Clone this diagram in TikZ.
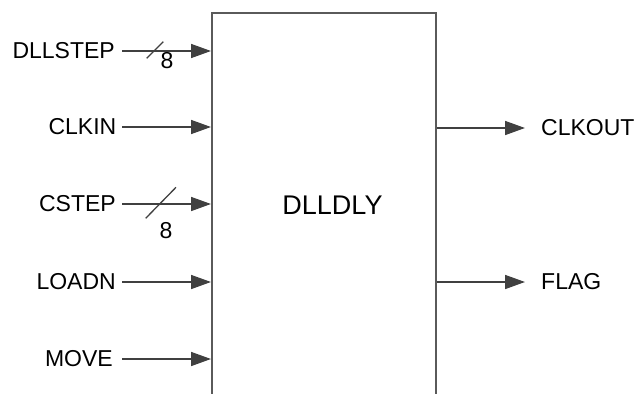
\documentclass[tikz,border=0pt]{standalone}
\usepackage{fontspec}
\setmainfont{Liberation Sans}
\usetikzlibrary{arrows.meta}
\definecolor{wire}{HTML}{404040}
\definecolor{boxc}{HTML}{5A5A5A}
\begin{document}
\begin{tikzpicture}[x=1pt,y=-1pt,
  lbl/.style={inner sep=0pt,font=\fontsize{23}{23}\selectfont,text=black},
  wirearrow/.style={draw=wire,line width=1.6pt,-{Triangle[length=20pt,width=14pt]}},
  busmark/.style={draw=wire,line width=1.3pt},
  blockbox/.style={draw=boxc,line width=1.8pt,fill=none}]
\useasboundingbox (0,0) rectangle (638,394);
\begin{scope}
\clip (0,0) rectangle (638,394);
\node[blockbox,anchor=north west,minimum width=224pt,minimum height=420pt,inner sep=0pt] (blk) at (211,12) {};
\end{scope}
\node[lbl,font=\fontsize{27}{27}\selectfont] (title) at (332.5,205) {DLLDLY};
% inputs
\node[lbl,anchor=east] (i1) at (115,51) {DLLSTEP};
\node[lbl,anchor=east] (i2) at (116.5,127) {CLKIN};
\node[lbl,anchor=east] (i3) at (116,204) {CSTEP};
\node[lbl,anchor=east] (i4) at (116,282) {LOADN};
\node[lbl,anchor=east] (i5) at (113,359) {MOVE};
\coordinate (s1) at (122,51);
\coordinate (s2) at (122,127);
\coordinate (s3) at (122,204);
\coordinate (s4) at (122,282);
\coordinate (s5) at (122,359);
\foreach \k in {1,...,5}{\draw[wirearrow] (s\k) -- (s\k -| blk.west);}
% bus marks
\draw[busmark] (146.7,58.3) -- (163.3,41.7);
\node[lbl] (n1) at (167,61) {8};
\draw[busmark] (145.7,218.3) -- (176,187.3);
\node[lbl] (n3) at (166,231) {8};
% outputs
\coordinate (o1) at (525,128);
\coordinate (o2) at (525,282);
\draw[wirearrow] (o1 -| blk.east) -- (o1);
\draw[wirearrow] (o2 -| blk.east) -- (o2);
\node[lbl,anchor=west] (q1) at (541,128) {CLKOUT};
\node[lbl,anchor=west] (q2) at (541,282) {FLAG};
\end{tikzpicture}
\end{document}
